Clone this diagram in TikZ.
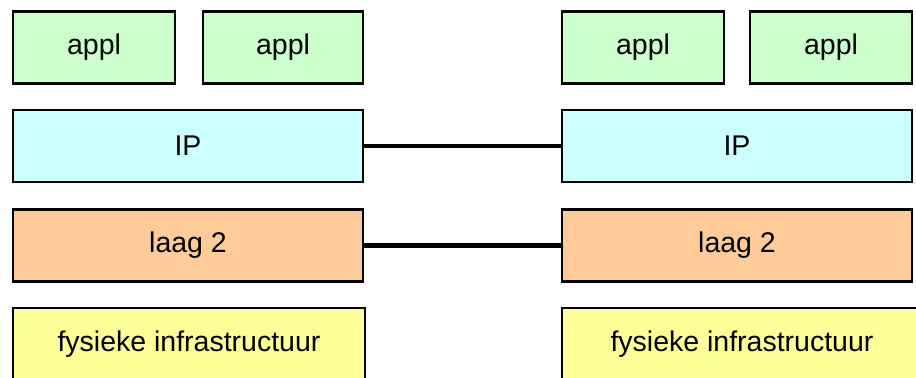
\documentclass[tikz,border=0pt]{standalone}
\usepackage{fontspec}
\setmainfont{Liberation Sans}
\definecolor{applgreen}{HTML}{CCFFCC}
\definecolor{ipcyan}{HTML}{CCFFFF}
\definecolor{laagorange}{HTML}{FFCC99}
\definecolor{fysyellow}{HTML}{FFFF99}
\tikzset{
  laag/.style={draw=black,line width=1.4pt,inner sep=0pt,minimum height=36pt,
    font=\fontsize{14.25}{17}\selectfont},
  smal/.style={laag,minimum width=81pt},
  breed/.style={laag,minimum width=175pt},
  verbinding/.style={line width=2.2pt}
}
\begin{document}
\begin{tikzpicture}[x=0.5pt,y=-0.5pt]
  \clip (0,0) rectangle (916,378);
  \useasboundingbox (0,0) rectangle (916,378);
  % linker stapel
  \node[smal,fill=applgreen] (applLa) at (94,47.5) {appl};
  \node[smal,fill=applgreen,minimum width=80pt] (applLb) at (283,47.5) {appl};
  \node[breed,fill=ipcyan] (ipL) at (188,146) {IP};
  \node[breed,fill=laagorange] (laagL) at (188,245.5) {laag 2};
  \node[breed,fill=fysyellow,minimum width=176pt] (fysL) at (189,344) {fysieke infrastructuur};
  % rechter stapel
  \node[smal,fill=applgreen] (applRa) at (643,47.5) {appl};
  \node[smal,fill=applgreen] (applRb) at (831,47.5) {appl};
  \node[breed,fill=ipcyan] (ipR) at (737,146) {IP};
  \node[breed,fill=laagorange] (laagR) at (737,245.5) {laag 2};
  \node[breed,fill=fysyellow,minimum width=180pt] (fysR) at (742,344) {fysieke infrastructuur};
  % verbindingen
  \draw[verbinding] (ipL.east) -- (ipR.west);
  \draw[verbinding] (laagL.east) -- (laagR.west);
\end{tikzpicture}
\end{document}
